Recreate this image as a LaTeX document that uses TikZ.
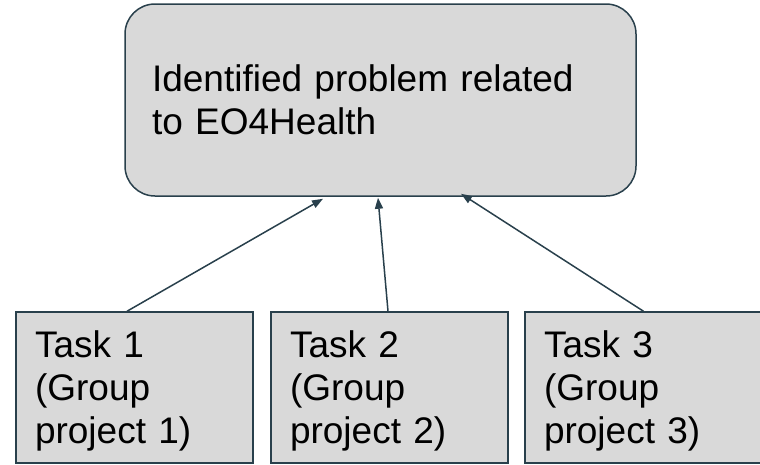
\documentclass[tikz,border=0pt]{standalone}
\usepackage{fontspec}
\setmainfont{Liberation Sans}
\usetikzlibrary{arrows.meta}
\definecolor{edgeblue}{HTML}{29404C}
\definecolor{boxgrey}{HTML}{D9D9D9}

\begin{document}
\begin{tikzpicture}[x=1pt,y=-1pt]
\tikzstyle{problem}=[draw=edgeblue,line width=1.5pt,fill=boxgrey,rounded corners=30pt,minimum width=511pt,minimum height=192pt,text width=457pt,inner xsep=27pt,align=left,font=\fontsize{37}{43}\selectfont]
\tikzstyle{task}=[draw=edgeblue,line width=1.5pt,fill=boxgrey,minimum width=237pt,minimum height=151pt,text width=199pt,inner xsep=19pt,align=left,font=\fontsize{37}{43}\selectfont]
\tikzstyle{link}=[draw=edgeblue,line width=1.5pt,-{Triangle[length=11pt,width=8pt]}]
\useasboundingbox (0,0) rectangle (760,464);
\node[problem] (goal) at (380.5,100) {Identified problem related to EO4Health};
\node[task] (t1) at (134.5,387.5) {\rule{0pt}{33pt}Task 1\\(Group\\project 1)};
\node[task] (t2) at (389.5,387.5) {\rule{0pt}{33pt}Task 2\\(Group\\project 2)};
\node[task] (t3) at (643.5,387.5) {\rule{0pt}{33pt}Task 3\\(Group\\project 3)};
\draw[link] ([xshift=-7.5pt]t1.north) -- ([xshift=-57.5pt,yshift=-2pt]goal.south);
\draw[link] ([xshift=-1.5pt]t2.north) -- ([xshift=-2.5pt,yshift=-1pt]goal.south);
\draw[link] (t3.north) -- ([xshift=80.5pt,yshift=3pt]goal.south);
\end{tikzpicture}
\end{document}
